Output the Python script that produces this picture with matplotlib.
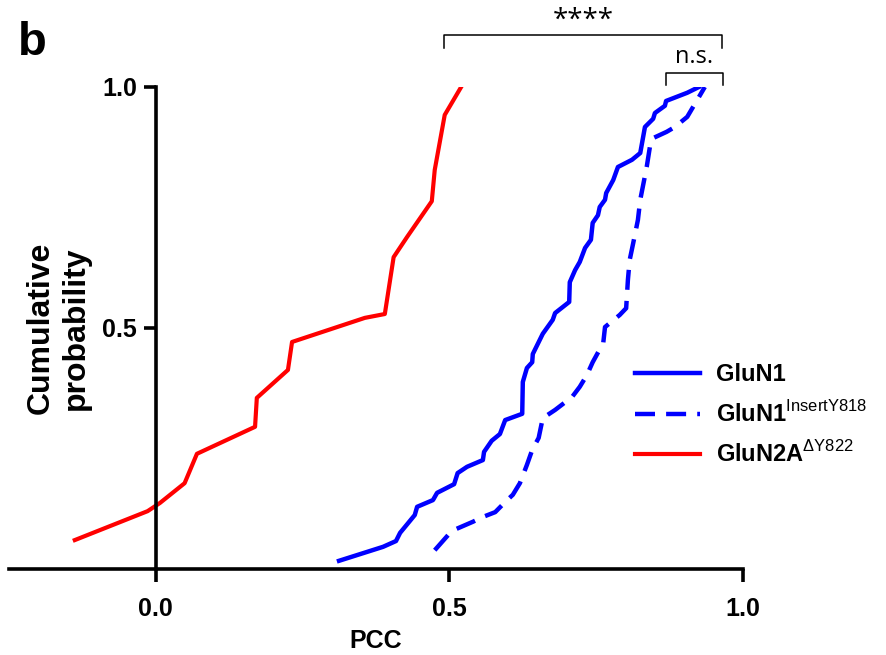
import matplotlib
matplotlib.use("Agg")
import matplotlib.pyplot as plt
import numpy as np

plt.rcParams['font.family'] = ['Liberation Sans', 'DejaVu Sans']
plt.rcParams['mathtext.fontset'] = 'custom'
plt.rcParams['mathtext.rm'] = 'Liberation Sans'
plt.rcParams['mathtext.bf'] = 'Liberation Sans:bold'

# cumulative curves (PCC, cumulative probability)
glun1_x = [0.312, 0.387, 0.409, 0.416, 0.441, 0.445, 0.472, 0.479, 0.508, 0.514,
           0.530, 0.557, 0.559, 0.572, 0.586, 0.595, 0.624, 0.625, 0.632, 0.641,
           0.642, 0.659, 0.676, 0.680, 0.704, 0.705, 0.714, 0.722, 0.731, 0.741,
           0.744, 0.753, 0.756, 0.765, 0.767, 0.779, 0.787, 0.811, 0.825, 0.833,
           0.847, 0.850, 0.867, 0.869, 0.905, 0.925]
glun1_y = [0.017, 0.046, 0.058, 0.075, 0.112, 0.129, 0.143, 0.158, 0.176, 0.199,
           0.212, 0.226, 0.243, 0.266, 0.280, 0.309, 0.322, 0.388, 0.417, 0.429,
           0.446, 0.488, 0.517, 0.531, 0.554, 0.595, 0.620, 0.637, 0.666, 0.683,
           0.718, 0.734, 0.751, 0.766, 0.780, 0.807, 0.834, 0.849, 0.863, 0.917,
           0.934, 0.946, 0.961, 0.971, 0.988, 1.0]

ins_x = [0.475, 0.504, 0.540, 0.557, 0.578, 0.595, 0.608, 0.620, 0.632, 0.641,
         0.652, 0.659, 0.680, 0.709, 0.722, 0.734, 0.744, 0.762, 0.765, 0.790,
         0.801, 0.804, 0.807, 0.813, 0.821, 0.825, 0.836, 0.842, 0.847, 0.870,
         0.884, 0.905, 0.935]
ins_y = [0.039, 0.079, 0.098, 0.108, 0.118, 0.139, 0.154, 0.178, 0.216, 0.247,
         0.272, 0.313, 0.330, 0.357, 0.378, 0.402, 0.429, 0.469, 0.502, 0.527,
         0.541, 0.600, 0.641, 0.676, 0.724, 0.766, 0.834, 0.880, 0.894, 0.907,
         0.917, 0.938, 1.0]

n2a_x = [-0.138, -0.014, 0.007, 0.049, 0.070, 0.169, 0.172, 0.225, 0.232, 0.356,
         0.390, 0.405, 0.428, 0.470, 0.475, 0.492, 0.520]
n2a_y = [0.060, 0.120, 0.137, 0.178, 0.239, 0.295, 0.355, 0.413, 0.471, 0.521,
         0.529, 0.647, 0.689, 0.763, 0.828, 0.942, 1.0]

fig = plt.figure(figsize=(8.86, 6.55), dpi=100)
ax = fig.add_axes([0.0102, 0.1313, 0.8284, 0.7359])

ax.plot(glun1_x, glun1_y, color='#0000ff', lw=3.2, label='GluN1')
ax.plot(ins_x, ins_y, color='#0000ff', lw=3.2, dashes=(4.5, 2.5),
        label=r'GluN1$^{\mathrm{InsertY818}}$')
ax.plot(n2a_x, n2a_y, color='#ff0000', lw=3.0,
        label=r'GluN2A$^{\Delta\mathrm{Y822}}$')

ax.set_xlim(-0.25, 1.0)
ax.set_ylim(0, 1.0)
ax.spines['left'].set_position(('data', 0))
ax.spines['top'].set_visible(False)
ax.spines['right'].set_visible(False)
for s in ['left', 'bottom']:
    ax.spines[s].set_linewidth(2.6)
ax.set_xticks([0.0, 0.5, 1.0])
ax.set_xticklabels(['0.0', '0.5', '1.0'])
ax.set_yticks([0.5, 1.0])
ax.set_yticklabels(['0.5', '1.0'])
ax.tick_params(axis='x', length=9, width=2.6, pad=11, labelsize=18)
ax.tick_params(axis='y', length=8.5, width=2.6, pad=5, labelsize=18)
for t in ax.get_xticklabels() + ax.get_yticklabels():
    t.set_fontweight('bold')

ax.set_xlabel('PCC', fontsize=18, fontweight='bold', labelpad=6)
ax.set_ylabel('Cumulative\nprobability', fontsize=23, fontweight='bold',
              va='center', linespacing=1.25)
ax.yaxis.set_label_coords(0.067, 0.5)

leg = ax.legend(loc='center left', bbox_to_anchor=(0.7167, 0.366),
                bbox_transform=fig.transFigure, frameon=False,
                prop={'size': 17, 'weight': 'bold'}, handlelength=2.75,
                handletextpad=0.7, labelspacing=0.62, borderpad=0, borderaxespad=0)

# significance brackets
def bracket(x0, x1, y, tip, txt, ty, size):
    ax.plot([x0, x0, x1, x1], [y - tip, y, y, y - tip], color='black', lw=1.1,
            clip_on=False)
    ax.text((x0 + x1) / 2, ty, txt, ha='center', va='center', fontsize=size,
            family=['Open Sans', 'DejaVu Sans'])

bracket(0.491, 0.964, 1.108, 0.027, '****', 1.137, 20)
bracket(0.869, 0.966, 1.029, 0.025, 'n.s.', 1.062, 17)

fig.text(32 / 886, 1 - 43 / 655, 'b', fontsize=34, fontweight='bold',
         ha='center', va='center')

fig.savefig('out.png', dpi=100)
